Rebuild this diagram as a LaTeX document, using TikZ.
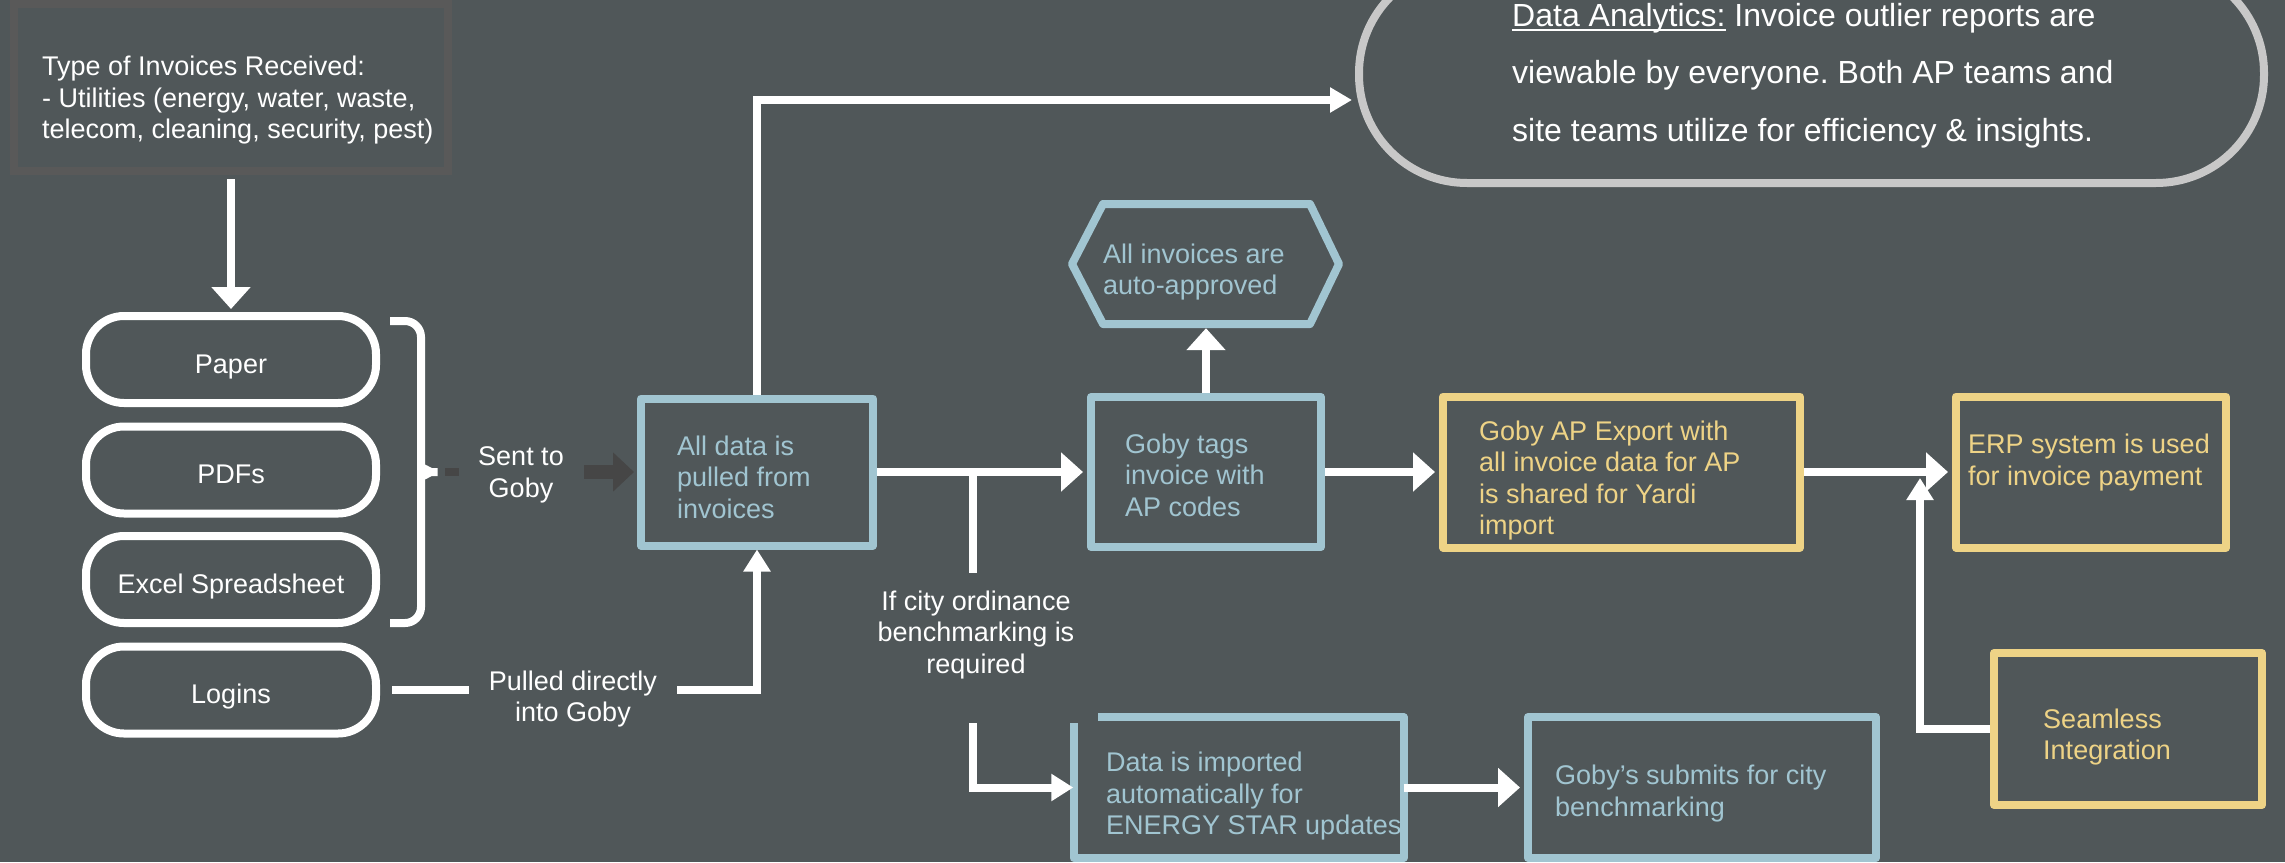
\documentclass[tikz,border=0pt]{standalone}
\usepackage{fontspec}
\setmainfont{Liberation Sans}
\usetikzlibrary{arrows.meta}
\frenchspacing
\definecolor{bgc}{RGB}{80,87,89}
\definecolor{bluec}{RGB}{161,197,209}
\definecolor{yelc}{RGB}{238,211,134}
\definecolor{typec}{RGB}{89,89,89}
\definecolor{dac}{RGB}{200,200,200}
\definecolor{darkarr}{RGB}{70,70,70}
\newcommand{\ulx}[1]{\setbox0=\hbox{#1}\rlap{\rule[-5pt]{\wd0}{2pt}}\box0\relax}
\begin{document}
\begin{tikzpicture}[x=1pt,y=-1pt,
  txt/.style={inner sep=0pt, align=left, font=\fontsize{27}{31.5}\selectfont,
    execute at begin node=\strut, execute at end node=\strut},
  txtc/.style={txt, align=center},
  boxb/.style={draw=bluec, line width=8pt, line join=round, inner sep=0pt},
  boxy/.style={draw=yelc, line width=8pt, line join=round, inner sep=0pt},
  pill/.style={draw=white, line width=8pt, rounded corners=38pt, inner sep=0pt,
    minimum width=290pt, minimum height=87pt},
  conn/.style={draw=white, line width=8pt},
  tipbig/.style={-{Triangle[length=22pt,width=38pt]}},
  tipmid/.style={-{Triangle[length=22pt,width=26pt]}},
  tipsm/.style={-{Triangle[length=22pt,width=24pt]}}
]
\fill[bgc] (0,0) rectangle (2285,862);
\useasboundingbox (0,0) rectangle (2285,862);

% ---- boxes ----
\node[draw=typec, line width=8pt, inner sep=0pt, minimum width=434pt, minimum height=167pt] (types) at (231,87.5) {};
\node[pill] (paper) at (231,359.5) {};
\node[pill] (pdfs) at (231,470) {};
\node[pill] (excel) at (231,579.5) {};
\node[pill] (logins) at (231,690) {};

\node[boxb, minimum width=232pt, minimum height=147pt] (box1) at (757,472) {};
\node[boxb, minimum width=230pt, minimum height=150pt] (box2) at (1206,472) {};
\node[boxy, minimum width=357pt, minimum height=151pt] (box3) at (1621.5,472) {};
\node[boxy, minimum width=270pt, minimum height=151pt] (erp) at (2091,472) {};
\node[boxy, minimum width=268pt, minimum height=152pt] (seam) at (2128,729) {};
\node[inner sep=0pt, minimum width=330pt, minimum height=141pt] (dataimp) at (1238.5,787.5) {};
\draw[bluec, line width=8pt, line join=round] (1098,717) -- (1403.5,717) -- (1403.5,858) -- (1073.5,858) -- (1073.5,723);
\node[boxb, minimum width=348pt, minimum height=141pt] (gobysub) at (1702,787.5) {};

\node[inner sep=0pt, minimum width=275pt, minimum height=128pt] (hex) at (1206,264) {};
\draw[bluec, line width=8pt, line join=round] (1103,204) -- (1310,204) -- (1339,264) -- (1310,324) -- (1103,324) -- (1072,264) -- cycle;

\node[draw=dac, line width=8pt, rounded corners=108pt, inner sep=0pt, minimum width=905pt, minimum height=218pt] (da) at (1811.5,74) {};

% ---- brace ----
\draw[white, line width=8pt, rounded corners=16pt] (390,321) -- (421,321) -- (421,452)
  .. controls (421,466) and (430,472) .. (447,472)
  .. controls (430,472) and (421,478) .. (421,492) -- (421,623) -- (390,623);
\coordinate (braceTip) at (445,472);
\coordinate (gA) at (584,472);
\draw[darkarr, line width=8pt] (braceTip) -- ++(14,0);
\draw[darkarr, line width=14pt, -{Triangle[length=21pt,width=38pt]}, shorten >=3pt] (gA) -- (box1.west);

% ---- connectors ----
\draw[conn, tipbig, shorten <=4pt, shorten >=3pt] (types.south) -- (paper.north);
\draw[conn, tipmid, shorten <=12pt] (logins.east) -| (box1.south);
\coordinate (daIn) at (1352,100);
\draw[conn, tipsm] (box1.north) |- (daIn);
\draw[conn, tipbig, shorten >=4pt] (box1.east) -- (box2.west);
\coordinate (brA) at (973,472);
\coordinate (brB) at (973,573);
\coordinate (brC) at (973,723);
\draw[conn] (brA) -- (brB);
\draw[conn, tipmid] (brC) |- (dataimp.west);
\draw[conn, tipbig] (box2.north) -- (hex.south);
\draw[conn, tipbig, shorten >=4pt] (box2.east) -- (box3.west);
\draw[conn, tipbig, shorten >=4pt] (box3.east) -- (erp.west);
\coordinate (seamIn) at (1920,478);
\draw[conn, tipmid] (seam.west) -| (seamIn);
\draw[conn, tipbig, shorten >=4pt] (dataimp.east) -- (gobysub.west);

% ---- texts ----
\node[txt, white, anchor=west] (ttypes) at (42,102) {Type of Invoices Received:\\- Utilities (energy, water, waste,\\telecom, cleaning, security, pest)};
\node[txtc, white] (tpaper) at (231,367) {Paper};
\node[txtc, white] (tpdfs) at (231,477) {PDFs};
\node[txtc, white] (texcel) at (231,587) {Excel Spreadsheet};
\node[txtc, white] (tlogins) at (231,697) {Logins};
\node[txtc, white] (sent) at (521,477) {Sent to\\Goby};
\node[txtc, white, fill=bgc, minimum width=208pt] (pulled) at (573,701) {Pulled directly\\into Goby};
\node[txtc, white] (cityq) at (976,636.5) {If city ordinance\\benchmarking is\\required};
\node[txt, bluec, anchor=west] (t1) at (677,481.5) {All data is\\pulled from\\invoices};
\node[txt, bluec, anchor=west] (t2) at (1125,479.5) {Goby tags\\invoice with\\AP codes};
\node[txt, bluec, anchor=west] (thex) at (1103,274) {All invoices are\\auto-approved};
\node[txt, yelc, anchor=west] (t3) at (1479,482.5) {Goby AP Export with\\all invoice data for AP\\is shared for Yardi\\import};
\node[txt, yelc, anchor=west] (terp) at (1968,464.5) {ERP system is used\\for invoice payment};
\node[txt, yelc, anchor=west] (tseam) at (2043,739) {Seamless\\Integration};
\node[txt, bluec, anchor=west] (tdi) at (1106,798) {Data is imported\\automatically for\\ENERGY STAR updates};
\node[txt, bluec, anchor=west] (tgs) at (1555,795.5) {Goby’s submits for city\\benchmarking};
\node[txt, white, anchor=west, font=\fontsize{32}{57.5}\selectfont] (tda) at (1512,81) {\ulx{Data Analytics:} Invoice outlier reports are\\viewable by everyone. Both AP teams and\\site teams utilize for efficiency \& insights.};
\end{tikzpicture}
\end{document}
